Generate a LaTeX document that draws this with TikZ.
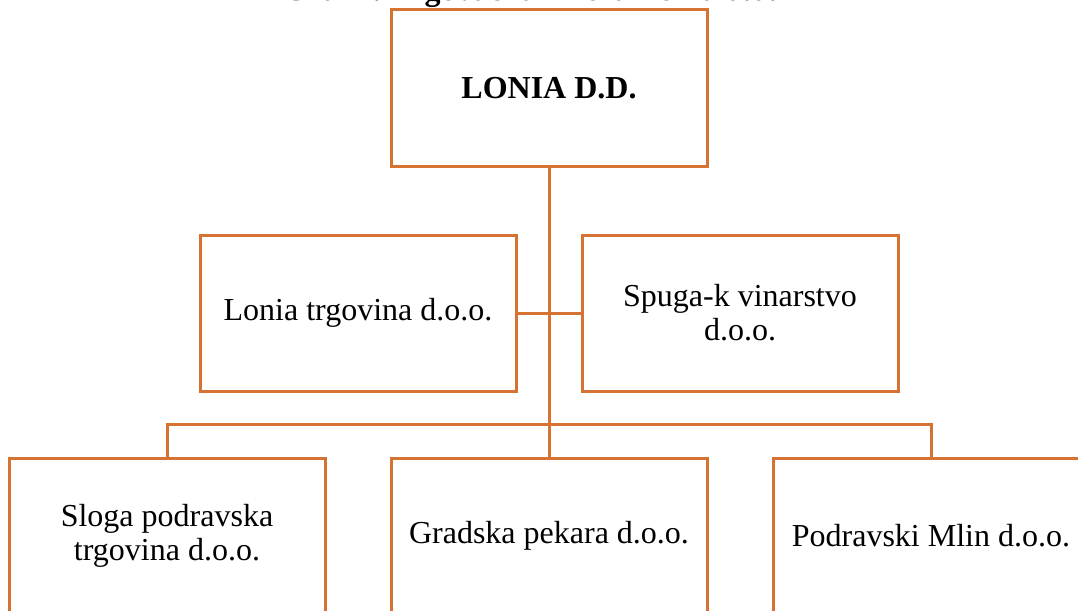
\documentclass[tikz,border=0pt]{standalone}
\usepackage{fontspec}
\setmainfont{Liberation Serif}
\definecolor{orgline}{RGB}{215,115,50}
\begin{document}
\begin{tikzpicture}[x=1pt,y=-1pt,
  box/.style={draw=orgline,line width=3pt,rectangle,minimum width=316pt,minimum height=156pt,
    inner sep=0pt,align=center,font=\fontsize{32}{34}\selectfont,fill=white},
  link/.style={draw=orgline,line width=3pt}]
\useasboundingbox (0,0) rectangle (1078,610);
\clip (0,0) rectangle (1078,610);
\node[anchor=base,font=\fontsize{32}{34}\selectfont\bfseries] (title) at (530,1) {Graf 1. Trgovačka mreža Lonia d.d.};
\node[box] (lonia) at (549,88) {\textbf{LONIA D.D.}};
\node[box] (trg) at (358,313) {Lonia trgovina d.o.o.};
\node[box] (spuga) at (740,313) {Spuga-k vinarstvo\\d.o.o.};
\node[box] (sloga) at (167,536) {Sloga podravska\\trgovina d.o.o.};
\node[box] (pekara) at (549,536) {Gradska pekara d.o.o.};
\node[box] (mlin) at (931,536) {Podravski Mlin d.o.o.};
\coordinate (bar) at (549,424);
\draw[link] (lonia.south) -- (pekara.north);
\draw[link] (trg.east) -- (spuga.west);
\draw[link] (sloga.north) |- (bar) -| (mlin.north);
\end{tikzpicture}
\end{document}
